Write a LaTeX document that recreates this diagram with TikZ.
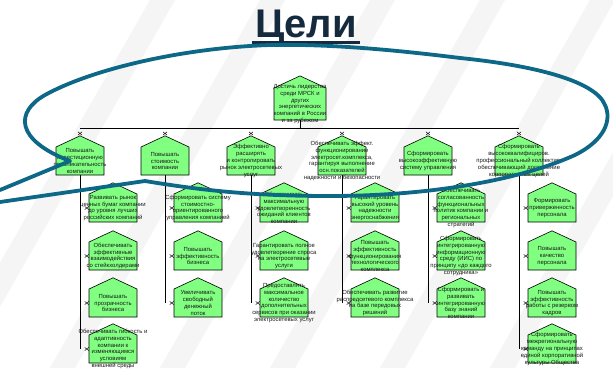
\documentclass[tikz,border=0pt]{standalone}
\usepackage{fontspec}
\setmainfont{Liberation Sans}
\usepackage{tikz}
\usetikzlibrary{shapes.symbols}

\definecolor{housegreen}{RGB}{128,255,128}
\definecolor{loopteal}{RGB}{12,104,134}
\definecolor{titlenavy}{RGB}{22,42,62}

\tikzset{
    house/.style={signal, signal to=north, signal pointer angle=130, draw=black, fill=housegreen,
        line width=0.6pt, inner xsep=24pt, inner ysep=14pt},
    housetext/.style={align=center, text=black!90, font=\fontsize{5.9}{6.8}\selectfont, inner sep=0pt},
    link/.style={black, line width=0.7pt},
    xmark/.pic={\draw[line width=0.45pt] (-2,-1.6) -- (2,1.6) (-2,1.6) -- (2,-1.6);}
}

\begin{document}
\begin{tikzpicture}[x=1pt, y=-1pt]

    \pgfmathsetmacro{\picw}{613}
    \pgfmathsetmacro{\pich}{368}
    \pgfmathsetmacro{\dx}{33}
    \pgfmathsetmacro{\rowa}{208}
    \pgfmathsetmacro{\rowb}{256}
    \pgfmathsetmacro{\rowc}{303}
    \pgfmathsetmacro{\rowd}{349}

    \useasboundingbox (0,0) rectangle (\picw,\pich);
    \fill[white] (0,0) rectangle (\picw,\pich);

    % faint stripes in the back
    \fill[black!4] (-60,\pich) -- (-35,\pich) -- (175,0) -- (150,0) -- cycle;
    \fill[black!4] (50,\pich) -- (75,\pich) -- (285,0) -- (260,0) -- cycle;
    \fill[black!4] (160,\pich) -- (185,\pich) -- (395,0) -- (370,0) -- cycle;
    \fill[black!4] (270,\pich) -- (295,\pich) -- (505,0) -- (480,0) -- cycle;
    \fill[black!4] (380,\pich) -- (405,\pich) -- (615,0) -- (590,0) -- cycle;
    \fill[black!4] (490,\pich) -- (515,\pich) -- (725,0) -- (700,0) -- cycle;

    % title
    \node[text=titlenavy, font=\fontsize{40}{40}\selectfont\bfseries, inner sep=0pt, anchor=base] (title) at (306,37) {Цели};
    \draw[titlenavy, line width=3pt] ([xshift=-3pt, yshift=-5pt]title.base west) -- ([xshift=3pt, yshift=-5pt]title.base east);

    % main goal
    \node[house, inner xsep=26pt, inner ysep=16pt,
        label={[housetext]center:{Достичь лидерства\\среди МРСК и\\других\\энергетических\\компаний в России\\и за рубежом}}] (goal) at (300,104) {};

    % second level
    \node[house, label={[housetext]center:{Повышать\\инвестиционную\\привлекательность\\компании}}] (g1) at (80,161) {};
    \node[house, label={[housetext]center:{Повышать\\стоимость\\компании}}] (g2) at (165,161) {};
    \node[house, label={[housetext]center:{Эффективно\\расширять\\и контролировать\\рынок электросетевых\\услуг}}] (g3) at (251,161) {};
    \node[house, label={[housetext]center:{Обеспечивать эффект.\\функционирование\\электросет.комплекса,\\гарантируя выполнение\\осн.показателей\\надежности и безопасности}}] (g4) at (342,161) {};
    \node[house, label={[housetext]center:{Сформировать\\высокоэффективную\\систему управления}}] (g5) at (428,161) {};
    \node[house, label={[housetext]center:{Сформировать\\высококвалифициров.\\профессиональный коллектив,\\обеспечивающий достижение\\корпоративных целей}}] (g6) at (519,161) {};

    % third level
    \node[house, label={[housetext]center:{Развивать рынок\\ценных бумаг компании\\до уровня лучших\\российских компаний}}] (g1a) at (80+\dx,\rowa) {};
    \node[house, label={[housetext]center:{Обеспечивать\\эффективные\\взаимодействия\\со стейкхолдерами}}] (g1b) at (80+\dx,\rowb) {};
    \node[house, label={[housetext]center:{Повышать\\прозрачность\\бизнеса}}] (g1c) at (80+\dx,\rowc) {};
    \node[house, label={[housetext]center:{Обеспечивать гибкость и\\адаптивность\\компании к\\изменяющимся\\условиям\\внешней среды}}] (g1d) at (80+\dx,\rowd) {};

    \node[house, label={[housetext]center:{Сформировать систему\\стоимостно-\\ориентированного\\управления компанией}}] (g2a) at (165+\dx,\rowa) {};
    \node[house, label={[housetext]center:{Повышать\\эффективность\\бизнеса}}] (g2b) at (165+\dx,\rowb) {};
    \node[house, label={[housetext]center:{Увеличивать\\свободный\\денежный\\поток}}] (g2c) at (165+\dx,\rowc) {};

    \node[house, label={[housetext]center:{Обеспечивать\\максимальную\\удовлетворенность\\ожиданий клиентов\\компании}}] (g3a) at (251+\dx,\rowa) {};
    \node[house, label={[housetext]center:{Гарантировать полное\\удовлетворение спроса\\на электросетевые\\услуги}}] (g3b) at (251+\dx,\rowb) {};
    \node[house, label={[housetext]center:{Предоставлять\\максимальное\\количество\\дополнительных\\сервисов при оказании\\электросетевых услуг}}] (g3c) at (251+\dx,\rowc) {};

    \node[house, label={[housetext]center:{Гарантировать\\высокий уровень\\надежности\\энергоснабжения}}] (g4a) at (342+\dx,\rowa) {};
    \node[house, label={[housetext]center:{Повышать\\эффективность\\функционирования\\технологического\\комплекса}}] (g4b) at (342+\dx,\rowb) {};
    \node[house, label={[housetext]center:{Обеспечивать развитие\\распредсетевого комплекса\\на базе передовых\\решений}}] (g4c) at (342+\dx,\rowc) {};

    \node[house, label={[housetext]center:{Обеспечивать\\согласованность\\функциональных\\политик компании и\\региональных\\стратегий}}] (g5a) at (428+\dx,\rowa) {};
    \node[house, label={[housetext]center:{Сформировать\\интегрированную\\информационную\\среду (ИИС) по\\принципу «до каждого\\сотрудника»}}] (g5b) at (428+\dx,\rowb) {};
    \node[house, label={[housetext]center:{Сформировать и\\развивать\\интегрированную\\базу знаний\\компании}}] (g5c) at (428+\dx,\rowc) {};

    \node[house, label={[housetext]center:{Формировать\\приверженность\\персонала}}] (g6a) at (519+\dx,\rowa) {};
    \node[house, label={[housetext]center:{Повышать\\качество\\персонала}}] (g6b) at (519+\dx,\rowb) {};
    \node[house, label={[housetext]center:{Повышать\\эффективность\\работы с резервом\\кадров}}] (g6c) at (519+\dx,\rowc) {};
    \node[house, label={[housetext]center:{Сформировать\\межрегиональную\\команду на принципах\\единой корпоративной\\культуры Общества}}] (g6d) at (519+\dx,\rowd) {};

    % links
    \coordinate (bar) at (0,128);
    \draw[link] (goal.south) -- (goal.south |- bar);
    \draw[link] (g1.north |- bar) -- (g6.north |- bar);
    \draw[link] (g1.south) -- (g1.south |- g1d.west);
    \draw[link] (g2.south) -- (g2.south |- g2c.west);
    \draw[link] (g3.south) -- (g3.south |- g3c.west);
    \draw[link] (g4.south) -- (g4.south |- g4c.west);
    \draw[link] (g5.south) -- (g5.south |- g5c.west);
    \draw[link] (g6.south) -- (g6.south |- g6d.west);

    \foreach \n in {g1,g2,g3,g4,g5,g6}
        \pic at ([yshift=2pt]\n.north) {xmark};
    \foreach \n in {g1a,g1b,g1c,g1d,g2a,g2b,g2c,g3a,g3b,g3c,g4a,g4b,g4c,g5a,g5b,g5c,g6a,g6b,g6c,g6d}
        \pic at ([xshift=-2pt]\n.west) {xmark};

    % hand drawn loop
    \draw[loopteal, line width=3.8pt, line cap=round, line join=round]
        (0,202) -- (145,181)
        .. controls (200,190) and (250,196) .. (330,196)
        .. controls (430,196) and (520,180) .. (575,155)
        .. controls (605,140) and (612,120) .. (605,105)
        .. controls (595,80) and (530,65) .. (460,58)
        .. controls (380,48) and (320,44) .. (270,45)
        .. controls (180,48) and (90,70) .. (45,95)
        .. controls (15,112) and (15,140) .. (70,161)
        -- (0,190);

\end{tikzpicture}
\end{document}
